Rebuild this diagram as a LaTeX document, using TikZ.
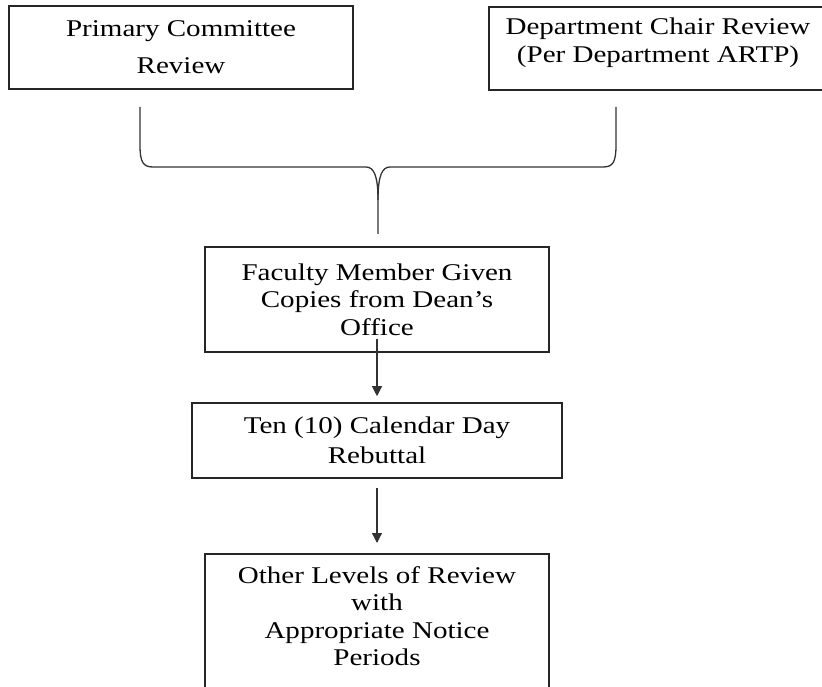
\documentclass[tikz,border=0pt]{standalone}
\usepackage{fontspec}
\setmainfont{Liberation Serif}[FakeStretch=1.21]
\usetikzlibrary{arrows.meta}

\begin{document}
\begin{tikzpicture}[x=1pt,y=-1pt,
  box/.style={draw=black!85,line width=1.6pt,align=center,inner sep=0pt},
  wide/.style={font=\fontsize{24}{37}\selectfont},
  tight/.style={font=\fontsize{24}{27.5}\selectfont},
  flow/.style={draw=black!80,line width=1.2pt,-{Triangle[length=10pt,width=10pt]}},
  brace/.style={draw=black!80,line width=1.3pt}]
  \clip (0,0) rectangle (822,687);
  % the two reviews
  \node[box,wide,minimum width=344pt,minimum height=83pt] (primary) at (181,47.5) {Primary Committee\\Review};
  \node[box,tight,anchor=north,minimum width=338pt,text height=55.7pt,text depth=27.3pt] (chair) at (658,6) {Department Chair Review\\(Per Department ARTP)};
  % brace joining them
  \draw[brace] (140,107) -- (140,145) .. controls (140,162) and (143,167) .. (153,167) -- (366,167)
    .. controls (374,167) and (378,176) .. (378,200) -- (378,234);
  \draw[brace] (616,107) -- (616,145) .. controls (616,162) and (613,167) .. (603,167) -- (390,167)
    .. controls (382,167) and (378,176) .. (378,200);
  % the chain below
  \node[box,tight,minimum width=344pt,minimum height=105pt] (faculty) at (377,299.5) {Faculty Member Given\\Copies from Dean's\\Office};
  \node[box,font=\fontsize{24}{30}\selectfont,minimum width=370pt,minimum height=75pt] (ten) at (377,440.5) {Ten (10) Calendar Day\\Rebuttal};
  \node[box,tight,anchor=north,minimum width=344pt,text height=112pt,text depth=150pt] (other) at (377,553) {Other Levels of Review\\with\\Appropriate Notice\\Periods};
  \draw[flow,shorten >=6pt] ([yshift=14pt]faculty.south) -- (ten.north);
  \draw[flow,shorten <=9pt,shorten >=10pt] (ten.south) -- (other.north);
\end{tikzpicture}
\end{document}
